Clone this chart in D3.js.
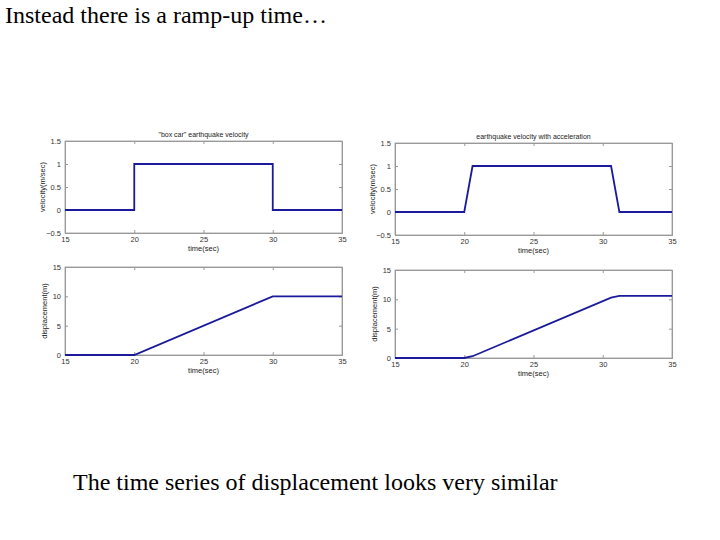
<!DOCTYPE html>
<html><head><meta charset="utf-8">
<script src="https://cdn.jsdelivr.net/npm/d3@7"></script>
<style>body{margin:0;background:#fff}svg{display:block}</style></head>
<body><svg id="c" width="720" height="540"></svg>
<script>
const boxTime = [15, 20, 20, 30, 30, 35];
const boxVel = [0, 0, 1, 1, 0, 0];
const boxDispTime = [15, 20, 30, 35];
const boxDisp = [0, 0, 10, 10];
const accTime = [15, 20, 20.6, 30.6, 31.2, 35];
const accVel = [0, 0, 1, 1, 0, 0];
const accDispTime = [15, 20, 20.6, 30.6, 31.2, 35];
const accDisp = [0, 0, 0.3, 10.3, 10.6, 10.6];
const xTicks = [15, 20, 25, 30, 35];
const velTicks = [-0.5, 0, 0.5, 1, 1.5];
const dispTicks = [0, 5, 10, 15];

const svg = d3.select("#c");
svg.append("text").attr("x",5).attr("y",23).attr("font-family","Liberation Serif").attr("font-size",24).text("Instead there is a ramp-up time…");
svg.append("text").attr("x",73).attr("y",490).attr("font-family","Liberation Serif").attr("font-size",24).text("The time series of displacement looks very similar");

function panel(x0,x1,yTop,yBot,ydom,yticks,xs,ys,title,ylab,ylabX){
  const x=d3.scaleLinear().domain([15,35]).range([x0,x1]);
  const y=d3.scaleLinear().domain(ydom).range([yBot,yTop]);
  const g=svg.append("g").attr("font-family","Arial").attr("font-size",7.5).attr("fill","#222");
  g.append("rect").attr("x",x0).attr("y",yTop).attr("width",x1-x0).attr("height",yBot-yTop).attr("fill","none").attr("stroke","#999").attr("stroke-width",0.8);
  g.append("g").attr("transform",`translate(0,${yBot})`).call(d3.axisBottom(x).tickValues(xTicks).tickSize(-3).tickPadding(4));
  g.append("g").attr("transform",`translate(${x0},0)`).call(d3.axisLeft(y).tickValues(yticks).tickSize(-3).tickPadding(4).tickFormat(d3.format("")));
  g.append("g").attr("transform",`translate(${x1},0)`).call(d3.axisRight(y).tickValues(yticks).tickSize(-3).tickFormat(""));
  g.append("g").attr("transform",`translate(0,${yTop})`).call(d3.axisTop(x).tickValues(xTicks).tickSize(-3).tickFormat(""));
  g.selectAll(".domain").attr("stroke","#999");
  g.selectAll(".tick line").attr("stroke","#999");
  g.selectAll(".tick text").attr("font-size",7.5).attr("fill","#333");
  g.append("path").datum(xs.map((t,i)=>[t,ys[i]])).attr("d",d3.line().x(d=>x(d[0])).y(d=>y(d[1])))
    .attr("fill","none").attr("stroke","#1a1a9a").attr("stroke-width",1.8);
  if(title) g.append("text").attr("x",(x0+x1)/2).attr("y",yTop-4).attr("text-anchor","middle").attr("font-size",7).text(title);
  g.append("text").attr("x",(x0+x1)/2).attr("y",yBot+18).attr("text-anchor","middle").attr("font-size",7.5).text("time(sec)");
  g.append("text").attr("transform",`translate(${ylabX},${(yTop+yBot)/2}) rotate(-90)`).attr("text-anchor","middle").attr("font-size",7.5).text(ylab);
}
panel(65,342,141,233,[-0.5,1.5],velTicks,boxTime,boxVel,"\"box car\" earthquake velocity","velocity(m/sec)",45);
panel(395,672,143,235,[-0.5,1.5],velTicks,accTime,accVel,"earthquake velocity with acceleration","velocity(m/sec)",375);
panel(65,342,267,355,[0,15],dispTicks,boxDispTime,boxDisp,"","displacement(m)",47);
panel(395,672,270,358,[0,15],dispTicks,accDispTime,accDisp,"","displacement(m)",377);
</script></body></html>
